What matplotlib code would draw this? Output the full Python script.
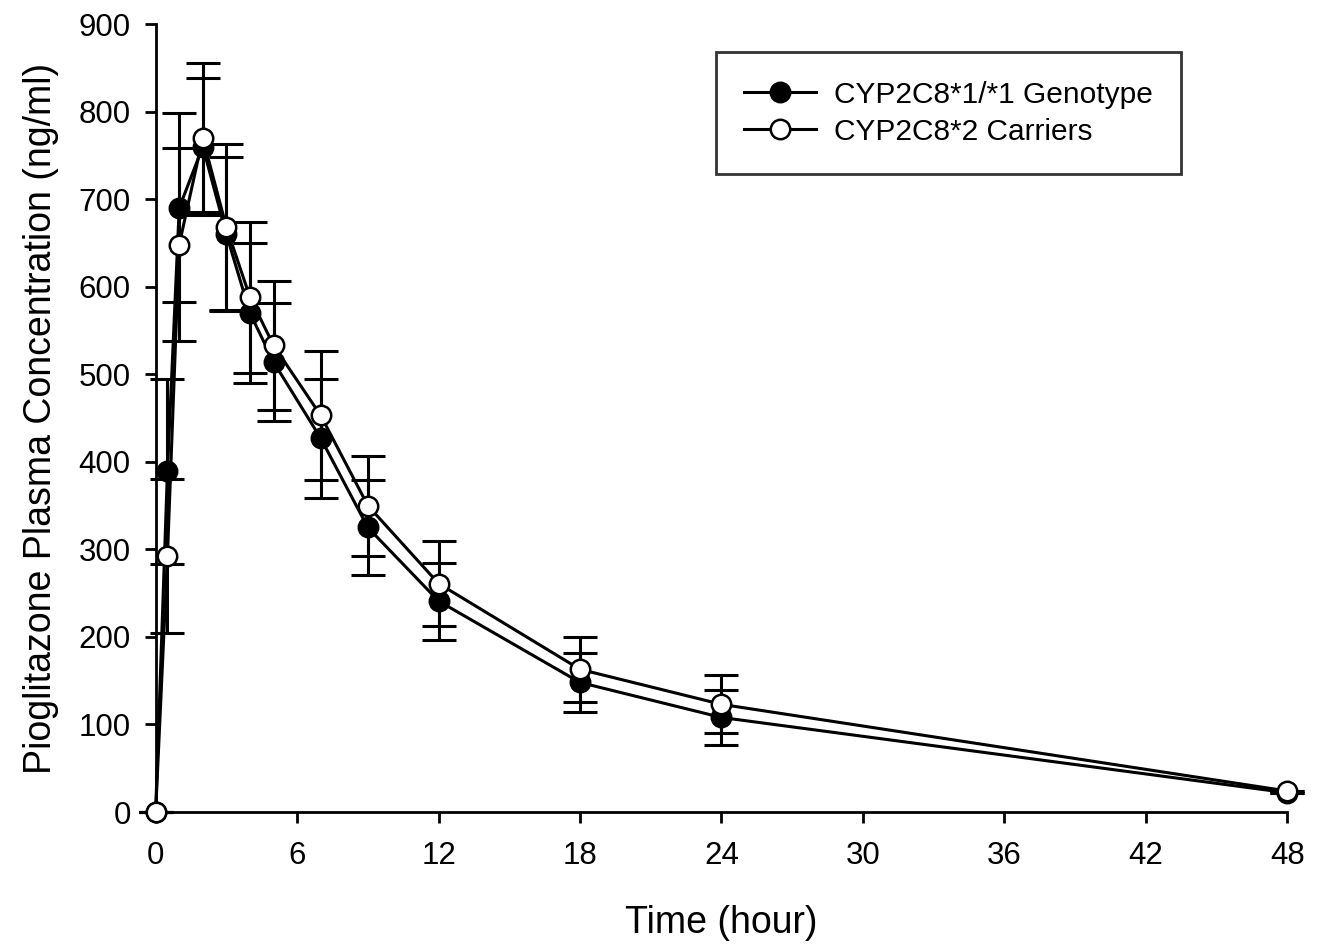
import numpy as np
import matplotlib
matplotlib.use("Agg")
import matplotlib.pyplot as plt

plt.rcParams['font.family'] = ['Liberation Sans', 'DejaVu Sans']

# Sampling times (hour)
time = [0, 0.5, 1, 2, 3, 4, 5, 7, 9, 12, 18, 24, 48]

# CYP2C8*1/*1 genotype: mean and error (ng/ml)
wt_mean = [0, 389, 690, 760, 660, 570, 514, 427, 325, 241, 148, 108, 22]
wt_err = [0, 106, 108, 78, 88, 80, 67, 68, 54, 44, 34, 31, 0]

# CYP2C8*2 carriers: mean and error (ng/ml)
c2_mean = [0, 292, 648, 770, 668, 588, 533, 453, 350, 261, 163, 123, 24]
c2_err = [0, 88, 110, 85, 95, 86, 74, 74, 57, 48, 37, 33, 0]

fig = plt.figure(figsize=(13.19, 9.46), dpi=100)
ax = fig.add_axes([0.118, 0.1416, 0.858, 0.833])

# error bars first so markers sit on top
for m, e in [(wt_mean, wt_err), (c2_mean, c2_err)]:
    ax.errorbar(time, m, yerr=e, fmt='none', ecolor='black', elinewidth=2.2,
                capsize=12, capthick=2.2, zorder=2, clip_on=False)

ax.plot(time, wt_mean, '-o', color='black', lw=2.2, ms=14, mfc='black',
        mec='black', mew=1.8, label='CYP2C8*1/*1 Genotype', zorder=3, clip_on=False)
ax.plot(time, c2_mean, '-o', color='black', lw=2.2, ms=14, mfc='white',
        mec='black', mew=1.8, label='CYP2C8*2 Carriers', zorder=4, clip_on=False)

ax.set_xlim(0, 48)
ax.set_ylim(0, 900)
ax.set_xticks(np.arange(0, 49, 6))
ax.set_yticks(np.arange(0, 901, 100))
ax.spines['top'].set_visible(False)
ax.spines['right'].set_visible(False)
ax.spines['left'].set_linewidth(2)
ax.spines['bottom'].set_linewidth(2)
ax.tick_params(direction='out', length=8, width=2, labelsize=22.5, pad=10)
ax.tick_params(axis='x', pad=13)

ax.set_xlabel('Time (hour)', fontsize=27, labelpad=24)
ax.set_ylabel('Pioglitazone Plasma Concentration (ng/ml)', fontsize=27, labelpad=14)

leg = ax.legend(loc='upper right', bbox_to_anchor=(0.906, 0.964), fontsize=21.5,
                frameon=True, fancybox=False, edgecolor='black', borderpad=0.95,
                handlelength=2.4, handletextpad=0.6, labelspacing=0.3,
                borderaxespad=0)
leg.get_frame().set_linewidth(2)

fig.savefig('out.png', dpi=100)
